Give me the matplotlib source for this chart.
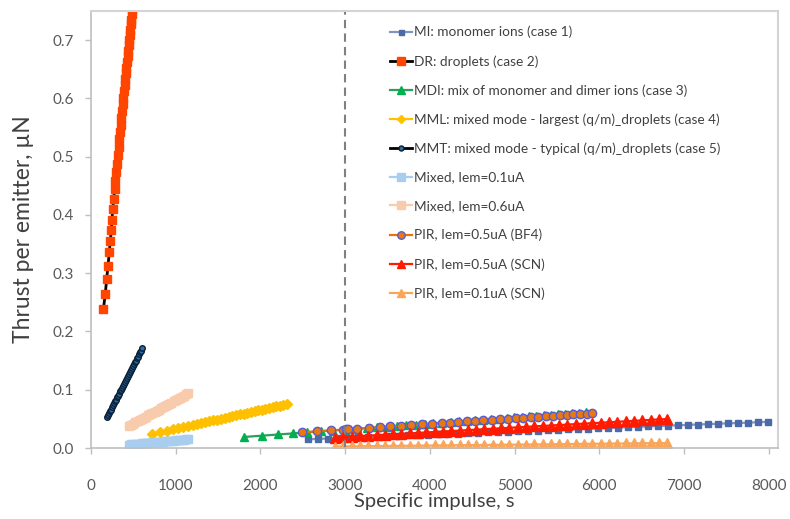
import matplotlib
matplotlib.use("Agg")
import matplotlib.pyplot as plt

# ---------------- data ----------------
mi_x = [2566, 2684, 2802, 2920, 3038, 3156, 3274, 3392, 3510, 3628, 3746, 3864, 3982, 4100, 4218, 4336,
        4454, 4572, 4690, 4808, 4926, 5044, 5162, 5280, 5398, 5516, 5634, 5752, 5870, 5988, 6106, 6224,
        6342, 6460, 6578, 6696, 6814, 6932, 7050, 7168, 7286, 7404, 7522, 7640, 7758, 7876, 7994]
mi_y = [0.0150, 0.0156, 0.0163, 0.0169, 0.0176, 0.0182, 0.0189, 0.0195, 0.0202, 0.0208, 0.0215, 0.0221,
        0.0228, 0.0234, 0.0241, 0.0247, 0.0254, 0.0260, 0.0267, 0.0273, 0.0280, 0.0286, 0.0293, 0.0299,
        0.0306, 0.0312, 0.0319, 0.0325, 0.0332, 0.0338, 0.0345, 0.0351, 0.0358, 0.0364, 0.0371, 0.0377,
        0.0384, 0.0390, 0.0397, 0.0403, 0.0410, 0.0416, 0.0423, 0.0429, 0.0436, 0.0442, 0.0449]

dr_x = [146, 169, 185, 201, 216, 228, 240, 248, 256, 268, 279, 287, 299, 307, 319, 327, 334, 343, 351, 359,
        368, 375, 383, 390, 398, 405, 411, 418, 425, 432, 438, 444, 450, 457, 463, 469, 474, 481, 486, 492]
dr_y = [0.238, 0.265, 0.290, 0.313, 0.336, 0.356, 0.374, 0.392, 0.410, 0.427, 0.444, 0.459, 0.474, 0.488,
        0.503, 0.517, 0.530, 0.543, 0.555, 0.567, 0.579, 0.590, 0.601, 0.612, 0.623, 0.633, 0.643, 0.653,
        0.663, 0.673, 0.682, 0.691, 0.700, 0.709, 0.718, 0.727, 0.735, 0.744, 0.752, 0.760]

mdi_x = [1810, 2023, 2212, 2390, 2555, 2710, 2855, 2995, 3128, 3255, 3378, 3497, 3612, 3724, 3833, 3939,
         4043, 4145, 4245, 4343, 4440, 4535, 4629, 4722, 4814, 4905, 4995, 5084, 5172, 5259, 5345, 5430,
         5514, 5597, 5680, 5762, 5843]
mdi_y = [0.0190, 0.0212, 0.0232, 0.0251, 0.0268, 0.0285, 0.0300, 0.0314, 0.0328, 0.0342, 0.0355, 0.0367,
         0.0379, 0.0391, 0.0402, 0.0414, 0.0424, 0.0435, 0.0446, 0.0456, 0.0466, 0.0476, 0.0486, 0.0496,
         0.0505, 0.0515, 0.0524, 0.0534, 0.0543, 0.0552, 0.0561, 0.0570, 0.0579, 0.0588, 0.0596, 0.0605,
         0.0613]

mml_x = [724, 815, 893, 972, 1031, 1090, 1149, 1200, 1250, 1300, 1348, 1395, 1442, 1488, 1534, 1580, 1625,
         1670, 1714, 1758, 1802, 1846, 1889, 1932, 1975, 2017, 2059, 2101, 2143, 2185, 2227, 2268, 2310]
mml_y = [0.0240, 0.0270, 0.0295, 0.0321, 0.0340, 0.0359, 0.0378, 0.0395, 0.0411, 0.0427, 0.0443, 0.0458,
         0.0473, 0.0488, 0.0503, 0.0518, 0.0533, 0.0547, 0.0562, 0.0576, 0.0590, 0.0605, 0.0619, 0.0633,
         0.0647, 0.0660, 0.0674, 0.0688, 0.0701, 0.0715, 0.0728, 0.0742, 0.0755]

mmt_x = [185, 197, 209, 221, 233, 245, 257, 269, 281, 293, 305, 317, 329, 341, 353, 365, 377, 389, 401, 413,
         425, 437, 449, 461, 473, 485, 497, 509, 521, 533, 545, 557, 569, 581, 593, 606]
mmt_y = [0.053, 0.056, 0.060, 0.063, 0.066, 0.070, 0.073, 0.077, 0.080, 0.083, 0.087, 0.090, 0.093, 0.097,
         0.100, 0.103, 0.107, 0.110, 0.114, 0.117, 0.120, 0.124, 0.127, 0.130, 0.134, 0.137, 0.140, 0.144,
         0.147, 0.150, 0.154, 0.157, 0.161, 0.164, 0.167, 0.171]

mixed_x = [450, 475, 500, 525, 550, 575, 600, 625, 650, 675, 700, 725, 750, 775, 800, 825, 850, 875, 900,
           925, 950, 975, 1000, 1025, 1050, 1075, 1100, 1125, 1150]
mixed01_y = [0.0060, 0.0063, 0.0066, 0.0070, 0.0073, 0.0076, 0.0079, 0.0082, 0.0086, 0.0089, 0.0092, 0.0095,
             0.0099, 0.0102, 0.0105, 0.0108, 0.0111, 0.0115, 0.0118, 0.0121, 0.0124, 0.0127, 0.0131, 0.0134,
             0.0137, 0.0140, 0.0143, 0.0147, 0.0150]
mixed06_y = [0.038, 0.040, 0.042, 0.044, 0.046, 0.048, 0.050, 0.052, 0.054, 0.056, 0.058, 0.060, 0.062,
             0.064, 0.066, 0.068, 0.070, 0.072, 0.074, 0.076, 0.078, 0.080, 0.082, 0.084, 0.086, 0.088,
             0.090, 0.092, 0.094]

bf4_x = [2487, 2665, 2830, 2975, 3005, 3035, 3144, 3286, 3412, 3530, 3655, 3777, 3903, 4021, 4139, 4239,
         4337, 4435, 4534, 4632, 4731, 4829, 4927, 5018, 5104, 5191, 5281, 5372, 5458, 5537, 5624, 5694,
         5773, 5852, 5911]
bf4_y = [0.0270, 0.0287, 0.0303, 0.0316, 0.0319, 0.0322, 0.0332, 0.0346, 0.0358, 0.0369, 0.0381, 0.0393,
         0.0405, 0.0416, 0.0427, 0.0436, 0.0446, 0.0455, 0.0464, 0.0474, 0.0483, 0.0492, 0.0502, 0.0510,
         0.0519, 0.0527, 0.0535, 0.0544, 0.0552, 0.0560, 0.0568, 0.0575, 0.0582, 0.0590, 0.0595]

scn_x = [2881, 2979, 3077, 3175, 3273, 3371, 3469, 3567, 3665, 3763, 3861, 3959, 4057, 4155, 4253, 4351,
         4449, 4547, 4645, 4743, 4841, 4939, 5037, 5135, 5233, 5331, 5429, 5527, 5625, 5723, 5821, 5919,
         6017, 6115, 6213, 6311, 6409, 6507, 6605, 6703, 6801]
scn05_y = [0.0180, 0.0188, 0.0196, 0.0204, 0.0212, 0.0220, 0.0228, 0.0236, 0.0244, 0.0251, 0.0259, 0.0267,
           0.0275, 0.0283, 0.0291, 0.0299, 0.0307, 0.0315, 0.0323, 0.0331, 0.0339, 0.0347, 0.0355, 0.0363,
           0.0371, 0.0378, 0.0386, 0.0394, 0.0402, 0.0410, 0.0418, 0.0426, 0.0434, 0.0442, 0.0450, 0.0458,
           0.0466, 0.0474, 0.0482, 0.0490, 0.0498]
scn01_y = [0.0025, 0.0027, 0.0028, 0.0030, 0.0031, 0.0033, 0.0034, 0.0036, 0.0037, 0.0039, 0.0040, 0.0042,
           0.0043, 0.0045, 0.0046, 0.0048, 0.0049, 0.0051, 0.0052, 0.0054, 0.0055, 0.0057, 0.0058, 0.0060,
           0.0061, 0.0063, 0.0064, 0.0066, 0.0067, 0.0069, 0.0070, 0.0072, 0.0073, 0.0075, 0.0076, 0.0078,
           0.0079, 0.0081, 0.0082, 0.0084, 0.0085]

labels = [
    "MI: monomer ions (case 1)",
    "DR: droplets (case 2)",
    "MDI: mix of monomer and dimer ions (case 3)",
    "MML: mixed mode - largest (q/m)_droplets (case 4)",
    "MMT: mixed mode - typical (q/m)_droplets (case 5)",
    "Mixed, Iem=0.1uA",
    "Mixed, Iem=0.6uA",
    "PIR, Iem=0.5uA (BF4)",
    "PIR, Iem=0.5uA (SCN)",
    "PIR, Iem=0.1uA (SCN)",
]
x_ticks = [0, 1000, 2000, 3000, 4000, 5000, 6000, 7000, 8000]
y_ticks = [0.0, 0.1, 0.2, 0.3, 0.4, 0.5, 0.6, 0.7]
divider_isp = 3000

# ---------------- plot ----------------
plt.rcParams['font.family'] = ['Lato', 'DejaVu Sans']

fig = plt.figure(figsize=(7.9, 5.19), dpi=100)
ax = fig.add_axes([91 / 790, 71 / 519, 687 / 790, 437 / 519])

ax.plot(mi_x, mi_y, color='#7F93C6', lw=1.6, marker='s', ms=4, mfc='#4A6BA8', mec='#4A6BA8',
        label=labels[0])
ax.plot(dr_x, dr_y, color='black', lw=2, marker='s', ms=6.3, mfc='#FF4500', mec='#FF4500',
        label=labels[1])
ax.plot(mdi_x, mdi_y, color='#2E9E5B', lw=1.6, marker='^', ms=6, mfc='#00B050', mec='#00B050',
        label=labels[2])
ax.plot(mml_x, mml_y, color='#FFC000', lw=1.6, marker='D', ms=5, mfc='#FFC000', mec='#FFC000',
        label=labels[3])
ax.plot(mmt_x, mmt_y, color='black', lw=2, marker='o', ms=4, mfc='#2A6DB0', mec='#0B1F33', mew=1,
        label=labels[4])
ax.plot(mixed_x, mixed01_y, color='#A9CDEF', lw=1.6, marker='s', ms=6, mfc='#A9CDEF', mec='#A9CDEF',
        label=labels[5])
ax.plot(mixed_x, mixed06_y, color='#F8CBAD', lw=1.6, marker='s', ms=6, mfc='#F8CBAD', mec='#F8CBAD',
        label=labels[6])
ax.plot(bf4_x, bf4_y, color='#E8720C', lw=1.6, marker='o', ms=6, mfc='#E8780F', mec='#5B5BD6', mew=1,
        label=labels[7])
ax.plot(scn_x, scn05_y, color='#FF1A00', lw=1.6, marker='^', ms=6.5, mfc='#FF1A00', mec='#FF1A00',
        label=labels[8])
ax.plot(scn_x, scn01_y, color='#F9A65A', lw=1.6, marker='^', ms=6.5, mfc='#F9A65A', mec='#F9A65A',
        label=labels[9])

ax.axvline(divider_isp, color='#808080', lw=1.5, ls=(0, (4, 2.5)))

ax.set_xlim(0, 8110)
ax.set_ylim(0, 0.75)
ax.set_xticks(x_ticks)
ax.set_yticks(y_ticks)
ax.set_xticklabels([str(t) for t in x_ticks])
ax.set_yticklabels([f"{t:.1f}" for t in y_ticks])
ax.tick_params(axis='both', colors='#BFBFBF', labelcolor='#595959', labelsize=11, length=4, width=1,
               direction='out')
ax.tick_params(axis='x', pad=18)
ax.tick_params(axis='y', pad=8)

for side in ['left', 'bottom']:
    ax.spines[side].set_color('#BFBFBF')
    ax.spines[side].set_linewidth(1.2)
for side in ['top', 'right']:
    ax.spines[side].set_color('#D4D4D4')
    ax.spines[side].set_linewidth(1.5)

ax.set_xlabel("Specific impulse, s", fontsize=14.5, color='#404040', labelpad=0)
ax.set_ylabel("Thrust per emitter, µN", fontsize=16.5, color='#404040', labelpad=14)

leg = ax.legend(loc='upper left', bbox_to_anchor=(0.4352, 0.966), frameon=False, fontsize=9.8,
                borderpad=0, borderaxespad=0, labelspacing=1.22, handlelength=1.65,
                handletextpad=0.15, numpoints=1, markerscale=0.9)
for t in leg.get_texts():
    t.set_color('#404040')

fig.savefig("out.png", dpi=100)
